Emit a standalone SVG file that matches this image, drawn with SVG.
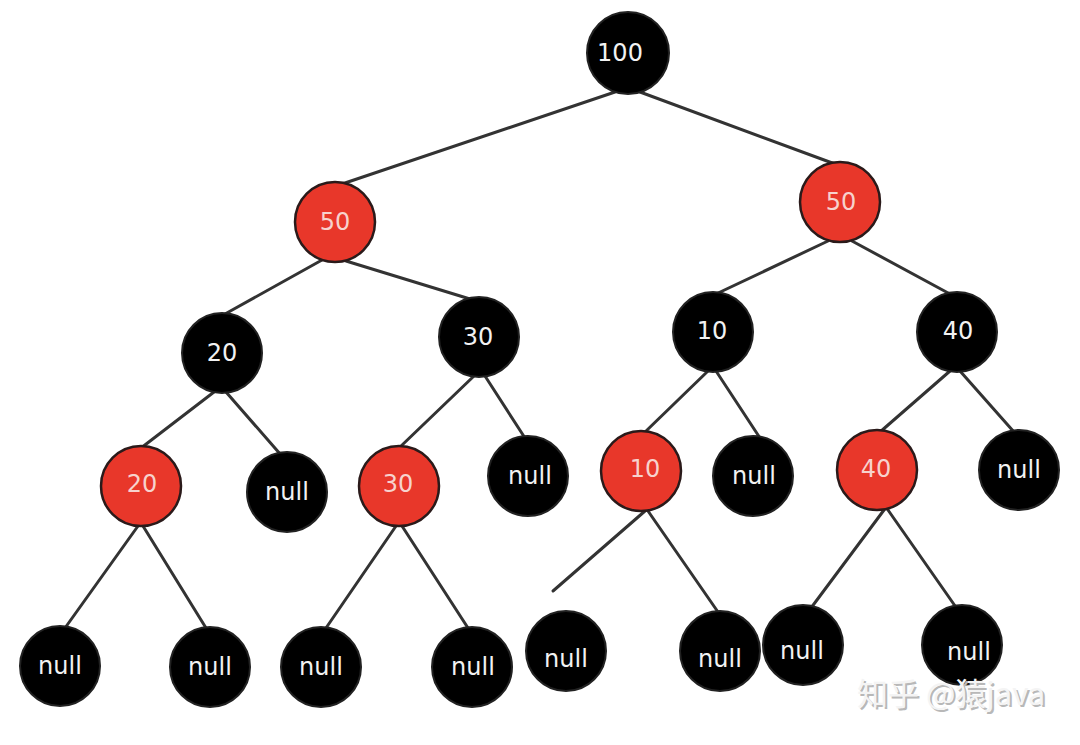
<svg xmlns="http://www.w3.org/2000/svg" width="1080" height="745" viewBox="0 0 1080 745">
<style>
.e{stroke:#333;stroke-width:3;fill:none;stroke-linecap:round}
.b{fill:#000;stroke:#222;stroke-width:2}
.r{fill:#e8372a;stroke:#2a1a1a;stroke-width:2.5}
.t{font-family:"DejaVu Sans","Noto Sans",sans-serif;font-size:24px;fill:#f2f2f2;text-anchor:middle;dominant-baseline:central}
.rt{fill:#f7d2cd}
.wm{font-family:"Noto Sans CJK SC","DejaVu Sans",sans-serif;font-size:31px}
</style>
<rect width="1080" height="745" fill="#fff"/>
<g id="edges">
<line class="e" x1="615" y1="92" x2="342" y2="184"/>
<line class="e" x1="640" y1="92" x2="835" y2="164"/>
<line class="e" x1="322" y1="260" x2="225" y2="314"/>
<line class="e" x1="346" y1="261" x2="470" y2="299"/>
<line class="e" x1="828" y1="241" x2="716" y2="294"/>
<line class="e" x1="852" y1="241" x2="950" y2="294"/>
<line class="e" x1="214" y1="392" x2="141" y2="448"/>
<line class="e" x1="226" y1="392" x2="281" y2="455"/>
<line class="e" x1="474" y1="376" x2="400" y2="447"/>
<line class="e" x1="485" y1="376" x2="525" y2="438"/>
<line class="e" x1="708" y1="371" x2="644" y2="433"/>
<line class="e" x1="716" y1="371" x2="760" y2="438"/>
<line class="e" x1="950" y1="371" x2="880" y2="432"/>
<line class="e" x1="960" y1="371" x2="1014" y2="432"/>
<line class="e" x1="138" y1="526" x2="65" y2="628"/>
<line class="e" x1="143" y1="526" x2="206" y2="628"/>
<line class="e" x1="396" y1="526" x2="326" y2="628"/>
<line class="e" x1="402" y1="526" x2="468" y2="628"/>
<line class="e" x1="645" y1="511" x2="553" y2="591"/>
<line class="e" x1="648" y1="511" x2="718" y2="612"/>
<line class="e" x1="884" y1="510" x2="808" y2="612"/>
<line class="e" x1="888" y1="510" x2="960" y2="613"/>
</g>
<g id="n100"><circle class="b" cx="628" cy="53" r="41"/><text class="t" x="620" y="53">100</text></g>
<g id="n50L"><circle class="r" cx="335" cy="222" r="40"/><text class="t rt" x="335" y="222">50</text></g>
<g id="n50R"><circle class="r" cx="840" cy="202" r="40"/><text class="t rt" x="841" y="202">50</text></g>
<g id="n20"><circle class="b" cx="222" cy="353" r="40"/><text class="t" x="222" y="353">20</text></g>
<g id="n30"><circle class="b" cx="479" cy="337" r="40"/><text class="t" x="478" y="337">30</text></g>
<g id="n10"><circle class="b" cx="713" cy="332" r="40"/><text class="t" x="712" y="331">10</text></g>
<g id="n40"><circle class="b" cx="957" cy="332" r="40"/><text class="t" x="958" y="331">40</text></g>
<g id="n20r"><circle class="r" cx="141" cy="486" r="40"/><text class="t rt" x="142" y="484">20</text></g>
<g id="null1"><circle class="b" cx="287" cy="492" r="40"/><text class="t" x="287" y="492">null</text></g>
<g id="n30r"><circle class="r" cx="399" cy="486" r="40"/><text class="t rt" x="398" y="484">30</text></g>
<g id="null2"><circle class="b" cx="528" cy="476" r="40"/><text class="t" x="530" y="476">null</text></g>
<g id="n10r"><circle class="r" cx="641" cy="471" r="40"/><text class="t rt" x="645" y="469">10</text></g>
<g id="null3"><circle class="b" cx="753" cy="476" r="40"/><text class="t" x="754" y="476">null</text></g>
<g id="n40r"><circle class="r" cx="877" cy="470" r="40"/><text class="t rt" x="876" y="469">40</text></g>
<g id="null4"><circle class="b" cx="1019" cy="470" r="40"/><text class="t" x="1019" y="470">null</text></g>
<g id="null5"><circle class="b" cx="60" cy="666" r="40"/><text class="t" x="60" y="666">null</text></g>
<g id="null6"><circle class="b" cx="210" cy="667" r="40"/><text class="t" x="210" y="667">null</text></g>
<g id="null7"><circle class="b" cx="321" cy="667" r="40"/><text class="t" x="321" y="667">null</text></g>
<g id="null8"><circle class="b" cx="472" cy="667" r="40"/><text class="t" x="473" y="667">null</text></g>
<g id="null9"><circle class="b" cx="566" cy="651" r="40"/><text class="t" x="566" y="659">null</text></g>
<g id="null10"><circle class="b" cx="720" cy="651" r="40"/><text class="t" x="720" y="659">null</text></g>
<g id="null11"><circle class="b" cx="803" cy="645" r="40"/><text class="t" x="802" y="651">null</text></g>
<g id="null12"><circle class="b" cx="962" cy="645" r="40"/><text class="t" x="969" y="652">null</text></g>
<g id="watermark">
<text class="wm" x="859" y="707" fill="#b8b8b8">知乎 @猿java</text>
<text class="wm" x="857" y="705" fill="#f4f4f4">知乎 @猿java</text>
</g>
</svg>
